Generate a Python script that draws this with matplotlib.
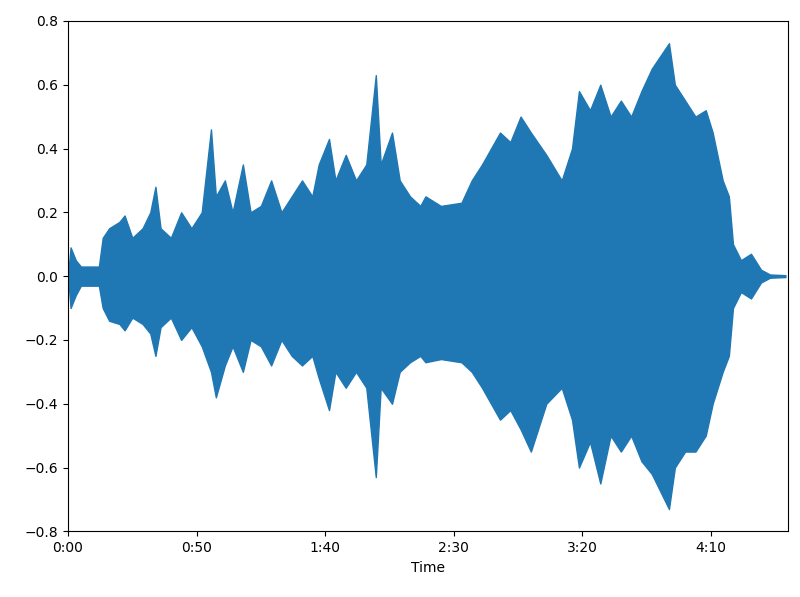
import matplotlib
matplotlib.use("Agg")
import matplotlib.pyplot as plt
from matplotlib.ticker import FuncFormatter, MultipleLocator

# envelope of the waveform (seconds, amplitude)
times = [0, 1, 3, 5, 12, 13.5, 16, 20, 22, 25, 29, 32, 34, 36, 40, 44, 48, 52,
         55.6, 57.5, 61, 64, 68, 71, 75, 79, 83, 87, 91, 95, 97.5, 101.5, 104,
         108, 112, 116, 119.7, 121.6, 126, 129, 133, 137, 139, 145, 153, 157,
         161, 164.5, 168, 172, 176, 180, 186, 192, 196, 198.7, 203, 207, 211,
         215, 219, 223, 227, 233.7, 236, 240, 244, 248, 250.7, 254.6, 257,
         258.6, 261.7, 265.6, 269.5, 273, 279]
upper = [0.0, 0.09, 0.05, 0.03, 0.03, 0.12, 0.15, 0.17, 0.19, 0.12, 0.15, 0.2,
         0.28, 0.15, 0.12, 0.2, 0.15, 0.2, 0.46, 0.25, 0.3, 0.2, 0.35, 0.2,
         0.22, 0.3, 0.2, 0.25, 0.3, 0.25, 0.35, 0.43, 0.3, 0.38, 0.3, 0.35,
         0.63, 0.35, 0.45, 0.3, 0.25, 0.22, 0.25, 0.22, 0.23, 0.3, 0.35, 0.4,
         0.45, 0.42, 0.5, 0.45, 0.38, 0.3, 0.4, 0.58, 0.52, 0.6, 0.5, 0.55,
         0.5, 0.58, 0.65, 0.73, 0.6, 0.55, 0.5, 0.52, 0.45, 0.3, 0.25, 0.1,
         0.05, 0.07, 0.02, 0.005, 0.003]
lower = [0.0, -0.1, -0.06, -0.03, -0.03, -0.1, -0.14, -0.15, -0.17, -0.13,
         -0.15, -0.18, -0.25, -0.16, -0.13, -0.2, -0.16, -0.22, -0.3, -0.38,
         -0.28, -0.22, -0.3, -0.2, -0.22, -0.28, -0.2, -0.25, -0.28, -0.25,
         -0.32, -0.42, -0.3, -0.35, -0.3, -0.35, -0.63, -0.35, -0.4, -0.3,
         -0.27, -0.25, -0.27, -0.26, -0.27, -0.3, -0.35, -0.4, -0.45, -0.42,
         -0.48, -0.55, -0.4, -0.35, -0.45, -0.6, -0.52, -0.65, -0.5, -0.55,
         -0.5, -0.58, -0.62, -0.73, -0.6, -0.55, -0.55, -0.5, -0.4, -0.3,
         -0.25, -0.1, -0.05, -0.07, -0.02, -0.005, -0.003]


def mmss(x, pos):
    return "%d:%02d" % (int(x) // 60, int(x) % 60)


fig, ax = plt.subplots(figsize=(8, 5.97), dpi=100)
ax.fill_between(times, lower, upper, color="#1f77b4", linewidth=1)
ax.set_xlim(0, 280)
ax.set_ylim(-0.8, 0.8)
ax.xaxis.set_major_locator(MultipleLocator(50))
ax.xaxis.set_major_formatter(FuncFormatter(mmss))
ax.set_xlabel("Time")
fig.subplots_adjust(left=0.085, right=0.985, top=0.965, bottom=0.11)
fig.savefig("out.png")
